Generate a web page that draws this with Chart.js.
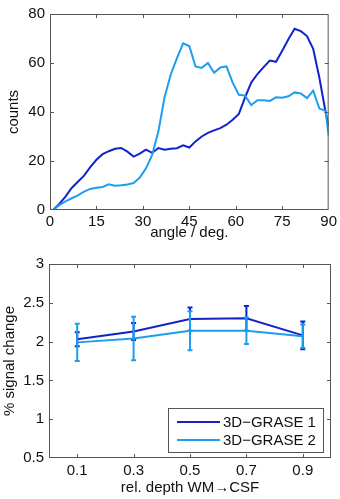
<!DOCTYPE html>
<html>
<head>
<meta charset="utf-8">
<script src="https://cdn.jsdelivr.net/npm/chart.js@4"></script>
<style>
  body { margin: 0; background: #fff; }
  .wrap { position: absolute; left: 0; width: 340px; }
</style>
</head>
<body>
<div class="wrap" style="top:0;height:250px"><canvas id="angleChart" width="340" height="250"></canvas></div>
<div class="wrap" style="top:250px;height:249px"><canvas id="depthChart" width="340" height="249"></canvas></div>
<script>
// top panel: angle histogram
const angles = [1, 3, 5, 7, 9, 11, 13, 15, 17, 19, 21, 23, 25, 27, 29, 31, 33, 35, 37, 39, 41, 43, 45,
  47, 49, 51, 53, 55, 57, 59, 61, 63, 65, 67, 69, 71, 73, 75, 77, 79, 81, 83, 85, 87, 89, 90];
const countsGrase1 = [0, 2.5, 5.5, 9, 11.5, 14, 17.5, 20.5, 22.8, 24, 25, 25.3, 23.8, 21.8, 23, 24.6, 23.3,
  25.3, 24.6, 25, 25.2, 26.4, 25.5, 28, 30, 31.5, 32.5, 33.4, 34.8, 36.8, 39.2, 46, 52, 55.5, 58.3, 61,
  60.5, 65, 69.7, 74, 73, 71, 65.8, 54, 40, 34];
const countsGrase2 = [0, 2, 3.5, 4.8, 6, 7.5, 8.6, 9.1, 9.4, 10.5, 9.9, 10.1, 10.4, 11, 13.2, 17, 22.5,
  32, 46, 55.3, 62, 68, 66.9, 58.6, 58, 60, 56, 58.2, 58.6, 52, 47, 46.7, 42.8, 44.8, 44.8, 44.5,
  46, 45.8, 46.4, 48, 47.6, 45.7, 48.7, 41.4, 40.5, 30.5];

// bottom panel: signal change vs depth
const depths = [0.1, 0.3, 0.5, 0.7, 0.9];
const signalGrase1 = [2.03, 2.13, 2.29, 2.30, 2.08];
const errGrase1 = [0.09, 0.11, 0.15, 0.16, 0.18];
const signalGrase2 = [1.99, 2.04, 2.14, 2.14, 2.07];
const errGrase2 = [0.24, 0.28, 0.25, 0.17, 0.15];
const seriesNames = ['3D\u2212GRASE 1', '3D\u2212GRASE 2'];

const darkBlue = 'rgb(18, 36, 200)';
const lightBlue = 'rgb(28, 158, 240)';
const boxColor = '#555';
const font = { family: '"Liberation Sans", Arial, sans-serif', size: 15 };

Chart.defaults.color = '#111';
Chart.defaults.font.family = font.family;
Chart.defaults.font.size = font.size;

function pairs(xs, ys) {
  return xs.map((x, i) => ({ x: x, y: ys[i] }));
}

// matlab-like box with inward ticks on all four sides
const boxPlugin = {
  id: 'matlabBox',
  afterDraw(chart) {
    const { ctx, chartArea: a, scales } = chart;
    ctx.save();
    ctx.strokeStyle = boxColor;
    ctx.lineWidth = 1;
    ctx.strokeRect(a.left + 0.5, a.top + 0.5, a.right - a.left - 1, a.bottom - a.top - 1);
    const len = 4;
    ctx.beginPath();
    scales.x.ticks.forEach(t => {
      const px = Math.round(scales.x.getPixelForValue(t.value)) + 0.5;
      if (px <= a.left + 1 || px >= a.right - 1) return;
      ctx.moveTo(px, a.bottom); ctx.lineTo(px, a.bottom - len);
      ctx.moveTo(px, a.top); ctx.lineTo(px, a.top + len);
    });
    scales.y.ticks.forEach(t => {
      const py = Math.round(scales.y.getPixelForValue(t.value)) + 0.5;
      if (py <= a.top + 1 || py >= a.bottom - 1) return;
      ctx.moveTo(a.left, py); ctx.lineTo(a.left + len, py);
      ctx.moveTo(a.right, py); ctx.lineTo(a.right - len, py);
    });
    ctx.stroke();
    ctx.restore();
  }
};

// vertical error bars with caps, drawn right after each line
const errorBarPlugin = {
  id: 'errorBars',
  afterDatasetDraw(chart, args) {
    const ds = chart.data.datasets[args.index];
    if (!ds.errors) return;
    const { ctx, scales } = chart;
    ctx.save();
    ctx.strokeStyle = ds.borderColor;
    ctx.lineWidth = 2;
    ds.data.forEach((p, i) => {
      const x = scales.x.getPixelForValue(p.x);
      const yTop = scales.y.getPixelForValue(p.y + ds.errors[i]);
      const yBot = scales.y.getPixelForValue(p.y - ds.errors[i]);
      ctx.beginPath();
      ctx.moveTo(x, yTop); ctx.lineTo(x, yBot);
      ctx.moveTo(x - 2.5, yTop); ctx.lineTo(x + 2.5, yTop);
      ctx.moveTo(x - 2.5, yBot); ctx.lineTo(x + 2.5, yBot);
      ctx.stroke();
    });
    ctx.restore();
  }
};

// boxed legend in the lower right of the plot area
const boxLegendPlugin = {
  id: 'boxLegend',
  afterDraw(chart) {
    const { ctx, chartArea: a } = chart;
    const w = 155, h = 44;
    const x0 = a.right - 8 - w, y0 = a.bottom - 6 - h;
    ctx.save();
    ctx.fillStyle = '#fff';
    ctx.fillRect(x0, y0, w, h);
    ctx.strokeStyle = boxColor;
    ctx.lineWidth = 1;
    ctx.strokeRect(x0 + 0.5, y0 + 0.5, w, h);
    ctx.font = font.size + 'px ' + font.family;
    ctx.textBaseline = 'middle';
    ctx.fillStyle = '#111';
    chart.data.datasets.forEach((ds, i) => {
      const y = y0 + 14 + i * 18;
      ctx.strokeStyle = ds.borderColor;
      ctx.lineWidth = 2;
      ctx.beginPath();
      ctx.moveTo(x0 + 9, y); ctx.lineTo(x0 + 52, y);
      ctx.stroke();
      ctx.fillText(ds.label, x0 + 55, y + 1);
    });
    ctx.restore();
  }
};

function yAxis(min, max, step, title, width, titlePad) {
  return {
    type: 'linear', position: 'left', min: min, max: max,
    grid: { display: false, drawTicks: false },
    border: { display: false },
    ticks: { stepSize: step, padding: 5, callback: v => String(v) },
    title: { display: true, text: title, padding: { top: titlePad, bottom: 0 } },
    afterFit(scale) { scale.width = width; }
  };
}

new Chart(document.getElementById('angleChart'), {
  type: 'line',
  data: {
    datasets: [
      { label: seriesNames[0], data: pairs(angles, countsGrase1), borderColor: darkBlue, order: 1 },
      { label: seriesNames[1], data: pairs(angles, countsGrase2), borderColor: lightBlue, order: 0 }
    ]
  },
  options: {
    responsive: false,
    animation: false,
    layout: { padding: { top: 7, right: 9, left: 0, bottom: 0 } },
    elements: { point: { radius: 0 }, line: { borderWidth: 2, tension: 0 } },
    plugins: { legend: { display: false }, tooltip: { enabled: false } },
    scales: {
      x: {
        type: 'linear', min: 0, max: 90,
        grid: { display: false, drawTicks: false },
        border: { display: false },
        ticks: { stepSize: 15, padding: 3 },
        title: { display: true, text: 'angle / deg.', padding: { top: 0, bottom: 8 } },
        afterFit(scale) { scale.height = 40; }
      },
      y: yAxis(0, 80, 20, 'counts', 50, 5)
    }
  },
  plugins: [boxPlugin]
});

new Chart(document.getElementById('depthChart'), {
  type: 'line',
  data: {
    datasets: [
      { label: seriesNames[0], data: pairs(depths, signalGrase1), errors: errGrase1, borderColor: darkBlue, order: 1 },
      { label: seriesNames[1], data: pairs(depths, signalGrase2), errors: errGrase2, borderColor: lightBlue, order: 0 }
    ]
  },
  options: {
    responsive: false,
    animation: false,
    layout: { padding: { top: 6, right: 9, left: 0, bottom: 0 } },
    elements: { point: { radius: 0 }, line: { borderWidth: 2, tension: 0 } },
    plugins: { legend: { display: false }, tooltip: { enabled: false } },
    scales: {
      x: {
        type: 'linear', min: 0, max: 1,
        grid: { display: false, drawTicks: false },
        border: { display: false },
        afterBuildTicks(scale) { scale.ticks = depths.map(v => ({ value: v })); },
        ticks: { padding: 4, callback: v => String(v) },
        title: { display: true, text: 'rel. depth WM\u2192CSF', padding: { top: 0, bottom: 2 } },
        afterFit(scale) { scale.height = 41; }
      },
      y: yAxis(0.5, 3, 0.5, '% signal change', 49, 1)
    }
  },
  plugins: [errorBarPlugin, boxPlugin, boxLegendPlugin]
});
</script>
</body>
</html>
